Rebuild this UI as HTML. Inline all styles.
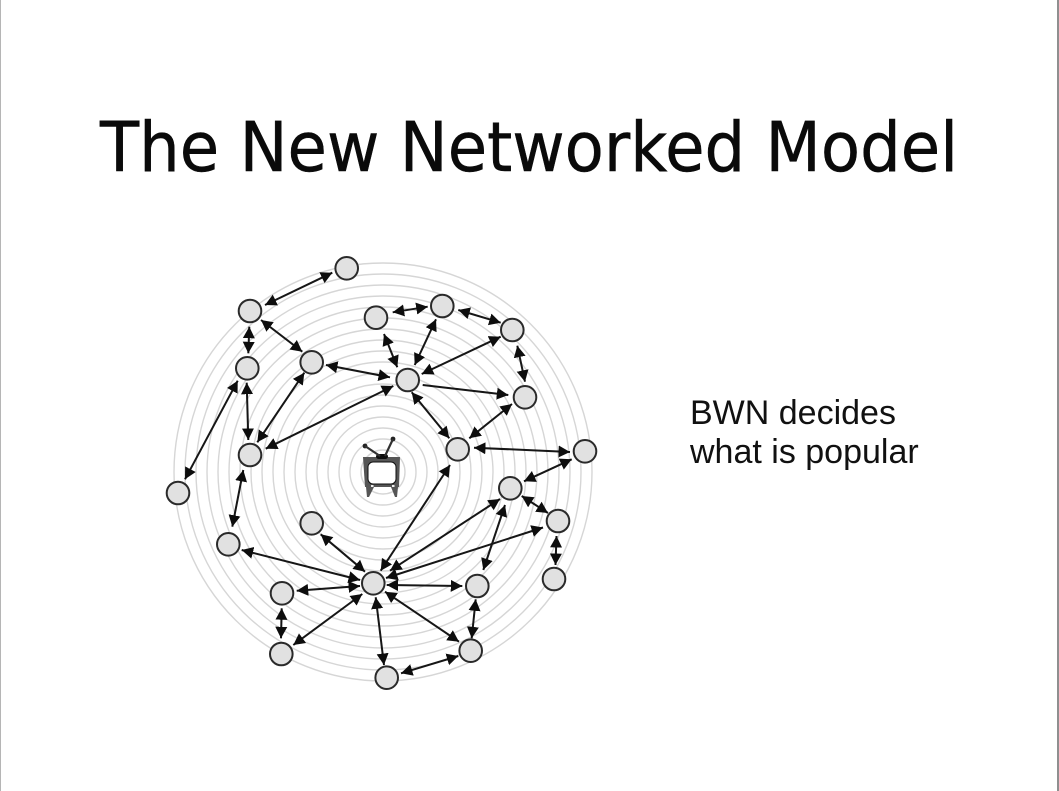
<!DOCTYPE html>
<html>
<head>
<meta charset="utf-8">
<style>
html,body{margin:0;padding:0;background:#fff;width:1059px;height:791px;overflow:hidden}
svg{display:block}
</style>
</head>
<body>
<svg width="1059" height="791" viewBox="0 0 1059 791" xmlns="http://www.w3.org/2000/svg">
<defs>
<marker id="a" markerUnits="userSpaceOnUse" markerWidth="13" markerHeight="13" refX="11.500" refY="6.500" orient="auto-start-reverse">
<path d="M0,0.500 L11.500,6.500 L0,12.500 Z" fill="#0c0c0c"/>
</marker>
<filter id="s" filterUnits="userSpaceOnUse" x="140" y="230" width="480" height="480"><feGaussianBlur stdDeviation="0.3"/></filter>
</defs>
<rect width="1059" height="791" fill="#fff"/>
<rect x="0" y="0" width="1" height="791" fill="#b5b5b5"/>
<rect x="1057" y="0" width="2" height="791" fill="#8f8f8f"/>

<text x="100" y="171" font-family="'DejaVu Sans',sans-serif" font-size="69" fill="#0a0a0a" stroke="#0a0a0a" stroke-width="0.5" textLength="858" lengthAdjust="spacingAndGlyphs">The New Networked Model</text>
<text x="690" y="424" font-family="'Liberation Sans',sans-serif" font-size="34" fill="#111">BWN decides</text>
<text x="690" y="463" font-family="'Liberation Sans',sans-serif" font-size="34" fill="#111">what is popular</text>

<g filter="url(#s)">
<g fill="none" stroke="#d6d6d6" stroke-width="1.400">
<circle cx="383" cy="472" r="22"/><circle cx="383" cy="472" r="33"/><circle cx="383" cy="472" r="44"/><circle cx="383" cy="472" r="55"/><circle cx="383" cy="472" r="66"/><circle cx="383" cy="472" r="77"/><circle cx="383" cy="472" r="88"/><circle cx="383" cy="472" r="99"/><circle cx="383" cy="472" r="110"/><circle cx="383" cy="472" r="121"/><circle cx="383" cy="472" r="132"/><circle cx="383" cy="472" r="143"/><circle cx="383" cy="472" r="154"/><circle cx="383" cy="472" r="165"/><circle cx="383" cy="472" r="176"/><circle cx="383" cy="472" r="187"/><circle cx="383" cy="472" r="198"/><circle cx="383" cy="472" r="209"/>
</g>

<g fill="#555">
<path d="M363,457 L400,457 L399,487 L365,487 Z"/>
<path d="M366,487 L374,487 L369,497 L367,497 Z"/>
<path d="M391,487 L398,487 L397,497 L395,497 Z"/>
<rect x="376" y="454" width="12" height="5" rx="2.500" fill="#111"/>
<circle cx="365" cy="446" r="2.400" fill="#222"/>
<circle cx="393" cy="439" r="2.400" fill="#222"/>
<rect x="371" y="485" width="2.500" height="2" fill="#eee"/>
<rect x="392" y="485" width="2.500" height="2" fill="#eee"/>
</g>
<path d="M365,446 L380,456 M393,439 L385,456" stroke="#333" stroke-width="2.200" fill="none"/>
<rect x="368" y="462" width="28" height="22" rx="5" fill="#fff" stroke="#111" stroke-width="1"/>

<g stroke="#141414" stroke-width="2" fill="none">
<line x1="332.300" y1="272.700" x2="265" y2="305" marker-start="url(#a)" marker-end="url(#a)"/>
<line x1="249.300" y1="326.700" x2="248.300" y2="353.300" marker-start="url(#a)" marker-end="url(#a)"/>
<line x1="261" y1="320" x2="302.300" y2="351.700" marker-start="url(#a)" marker-end="url(#a)"/>
<line x1="237.700" y1="380.700" x2="185" y2="479.300" marker-start="url(#a)" marker-end="url(#a)"/>
<line x1="246.700" y1="382.700" x2="248.300" y2="440" marker-start="url(#a)" marker-end="url(#a)"/>
<line x1="304.300" y1="372.700" x2="257.300" y2="442.300" marker-start="url(#a)" marker-end="url(#a)"/>
<line x1="393.300" y1="386" x2="265.700" y2="448.700" marker-start="url(#a)" marker-end="url(#a)"/>
<line x1="326" y1="365" x2="390" y2="377.300" marker-start="url(#a)" marker-end="url(#a)"/>
<line x1="392.700" y1="312.300" x2="427.700" y2="306.700" marker-start="url(#a)" marker-end="url(#a)"/>
<line x1="384" y1="334" x2="397.300" y2="367.300" marker-start="url(#a)" marker-end="url(#a)"/>
<line x1="436" y1="319.300" x2="414.700" y2="365" marker-start="url(#a)" marker-end="url(#a)"/>
<line x1="458.300" y1="310" x2="500.700" y2="322.700" marker-start="url(#a)" marker-end="url(#a)"/>
<line x1="500.700" y1="336.700" x2="421.700" y2="374" marker-start="url(#a)" marker-end="url(#a)"/>
<line x1="517.300" y1="345.700" x2="525" y2="381.700" marker-start="url(#a)" marker-end="url(#a)"/>
<line x1="422.700" y1="385" x2="508.300" y2="395" marker-end="url(#a)"/>
<line x1="512" y1="404" x2="469.300" y2="438.300" marker-start="url(#a)" marker-end="url(#a)"/>
<line x1="411.700" y1="392.300" x2="449.300" y2="438.300" marker-start="url(#a)" marker-end="url(#a)"/>
<line x1="474" y1="447.700" x2="570" y2="452" marker-start="url(#a)" marker-end="url(#a)"/>
<line x1="571.700" y1="459.300" x2="524" y2="481.300" marker-start="url(#a)" marker-end="url(#a)"/>
<line x1="450" y1="465" x2="380.700" y2="570.700" marker-start="url(#a)" marker-end="url(#a)"/>
<line x1="521.700" y1="496" x2="548" y2="513" marker-start="url(#a)" marker-end="url(#a)"/>
<line x1="500" y1="499" x2="390" y2="570.700" marker-start="url(#a)" marker-end="url(#a)"/>
<line x1="505" y1="505" x2="483.300" y2="570" marker-start="url(#a)" marker-end="url(#a)"/>
<line x1="543" y1="527.500" x2="386" y2="578" marker-start="url(#a)" marker-end="url(#a)"/>
<line x1="556.500" y1="536" x2="555.500" y2="565" marker-start="url(#a)" marker-end="url(#a)"/>
<line x1="243.300" y1="470" x2="232.300" y2="526.700" marker-start="url(#a)" marker-end="url(#a)"/>
<line x1="241.700" y1="550" x2="360" y2="580" marker-start="url(#a)" marker-end="url(#a)"/>
<line x1="320.700" y1="534.300" x2="365" y2="571.700" marker-start="url(#a)" marker-end="url(#a)"/>
<line x1="296.700" y1="590.700" x2="360" y2="586" marker-start="url(#a)" marker-end="url(#a)"/>
<line x1="293.300" y1="645" x2="362.300" y2="594" marker-start="url(#a)" marker-end="url(#a)"/>
<line x1="281.700" y1="608.300" x2="281" y2="638.300" marker-start="url(#a)" marker-end="url(#a)"/>
<line x1="375.700" y1="597.300" x2="384" y2="665" marker-start="url(#a)" marker-end="url(#a)"/>
<line x1="385" y1="591.700" x2="459" y2="641.700" marker-start="url(#a)" marker-end="url(#a)"/>
<line x1="386.700" y1="585" x2="462.300" y2="586" marker-start="url(#a)" marker-end="url(#a)"/>
<line x1="475.700" y1="599.300" x2="471.700" y2="638.300" marker-start="url(#a)" marker-end="url(#a)"/>
<line x1="401" y1="673.300" x2="458.300" y2="656" marker-start="url(#a)" marker-end="url(#a)"/>
</g>

<g fill="#e1e1e1" stroke="#2c2c2c" stroke-width="2">
<circle cx="346.700" cy="268.300" r="11.300"/>
<circle cx="250" cy="311" r="11.300"/>
<circle cx="376" cy="317.700" r="11.300"/>
<circle cx="442.300" cy="306" r="11.300"/>
<circle cx="512.300" cy="330" r="11.300"/>
<circle cx="311.700" cy="362.300" r="11.300"/>
<circle cx="247.300" cy="368.300" r="11.300"/>
<circle cx="407.700" cy="380" r="11.300"/>
<circle cx="525" cy="397.300" r="11.300"/>
<circle cx="250" cy="455" r="11.300"/>
<circle cx="457.700" cy="449.300" r="11.300"/>
<circle cx="585" cy="451.300" r="11.300"/>
<circle cx="178" cy="493" r="11.300"/>
<circle cx="510.300" cy="488.300" r="11.300"/>
<circle cx="558" cy="521" r="11.300"/>
<circle cx="311.700" cy="523.300" r="11.300"/>
<circle cx="228.300" cy="544.300" r="11.300"/>
<circle cx="554" cy="579" r="11.300"/>
<circle cx="373.300" cy="583.300" r="11.300"/>
<circle cx="477.300" cy="586" r="11.300"/>
<circle cx="282" cy="593.300" r="11.300"/>
<circle cx="281.300" cy="654" r="11.300"/>
<circle cx="470.700" cy="650.700" r="11.300"/>
<circle cx="386.700" cy="677.700" r="11.300"/>
</g>
</g>
</svg>
</body>
</html>
